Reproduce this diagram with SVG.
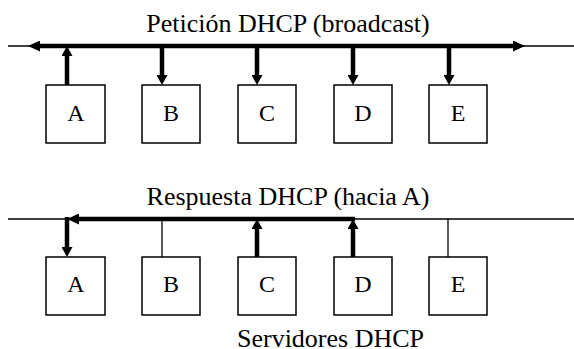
<svg xmlns="http://www.w3.org/2000/svg" width="574" height="349" viewBox="0 0 574 349">
  <style>
    .bg { fill: #ffffff; }
    .box { fill: #ffffff; stroke: #000000; stroke-width: 1.5; }
    .label { font-family: "Liberation Serif", "Times New Roman", serif; font-size: 24px; fill: #000000; text-anchor: middle; }
    .title { font-family: "Liberation Serif", "Times New Roman", serif; font-size: 26px; fill: #000000; text-anchor: middle; }
    .bus { fill: none; stroke: #000000; stroke-width: 1.3; }
    .thin { fill: none; stroke: #000000; stroke-width: 1.3; }
    .thick { fill: none; stroke: #000000; stroke-width: 4.5; stroke-linecap: butt; }
  </style>
  <defs>
    <!-- solid head, base sits on the line end, tip reaches 12px beyond -->
    <marker id="head" markerUnits="userSpaceOnUse" markerWidth="12" markerHeight="11"
            refX="0" refY="5.5" orient="auto-start-reverse" viewBox="0 0 12 11">
      <path d="M0,0 L12,5.5 L0,11 Z" fill="#000000"/>
    </marker>
    <marker id="stemhead" markerUnits="userSpaceOnUse" markerWidth="10" markerHeight="11"
            refX="0" refY="5.5" orient="auto" viewBox="0 0 10 11">
      <path d="M0,0 L10,5.5 L0,11 Z" fill="#000000"/>
    </marker>
  </defs>

  <rect class="bg" x="0" y="0" width="574" height="349"/>

  <!-- Upper network: broadcast request -->
  <text class="title" x="288" y="32">Petición DHCP (broadcast)</text>
  <g id="connectors-top">
    <line class="bus" x1="8" y1="46" x2="574" y2="46"/>
    <line class="thick" x1="40" y1="46" x2="513" y2="46" marker-start="url(#head)" marker-end="url(#head)"/>
    <line class="thick" x1="67" y1="85" x2="67" y2="56" marker-end="url(#stemhead)"/>
    <line class="thick" x1="162" y1="46" x2="162" y2="75" marker-end="url(#stemhead)"/>
    <line class="thick" x1="257" y1="46" x2="257" y2="75" marker-end="url(#stemhead)"/>
    <line class="thick" x1="353" y1="46" x2="353" y2="75" marker-end="url(#stemhead)"/>
    <line class="thick" x1="449" y1="46" x2="449" y2="75" marker-end="url(#stemhead)"/>
  </g>
  <g id="top-A"><rect class="box" x="46" y="85" width="59" height="58"/><text class="label" x="76" y="121">A</text></g>
  <g id="top-B"><rect class="box" x="142" y="85" width="58" height="58"/><text class="label" x="171" y="121">B</text></g>
  <g id="top-C"><rect class="box" x="238" y="85" width="58" height="58"/><text class="label" x="267" y="121">C</text></g>
  <g id="top-D"><rect class="box" x="334" y="85" width="58" height="58"/><text class="label" x="363" y="121">D</text></g>
  <g id="top-E"><rect class="box" x="429" y="85" width="58" height="58"/><text class="label" x="458" y="121">E</text></g>

  <!-- Lower network: replies addressed to A -->
  <text class="title" x="288" y="205">Respuesta DHCP (hacia A)</text>
  <g id="connectors-bottom">
    <line class="bus" x1="8" y1="219" x2="574" y2="219"/>
    <line class="thick" x1="355" y1="219" x2="79" y2="219" marker-end="url(#head)"/>
    <line class="thick" x1="67" y1="217" x2="67" y2="247" marker-end="url(#stemhead)"/>
    <line class="thin" x1="162" y1="219" x2="162" y2="257"/>
    <line class="thick" x1="257" y1="257" x2="257" y2="229" marker-end="url(#stemhead)"/>
    <line class="thick" x1="353" y1="257" x2="353" y2="229" marker-end="url(#stemhead)"/>
    <line class="thin" x1="448" y1="219" x2="448" y2="257"/>
  </g>
  <g id="bottom-A"><rect class="box" x="46" y="257" width="59" height="58"/><text class="label" x="76" y="292">A</text></g>
  <g id="bottom-B"><rect class="box" x="142" y="257" width="58" height="58"/><text class="label" x="171" y="292">B</text></g>
  <g id="bottom-C"><rect class="box" x="238" y="257" width="58" height="58"/><text class="label" x="267" y="292">C</text></g>
  <g id="bottom-D"><rect class="box" x="334" y="257" width="58" height="58"/><text class="label" x="363" y="292">D</text></g>
  <g id="bottom-E"><rect class="box" x="429" y="257" width="58" height="58"/><text class="label" x="458" y="292">E</text></g>

  <text class="title" x="330.5" y="347">Servidores DHCP</text>
</svg>
